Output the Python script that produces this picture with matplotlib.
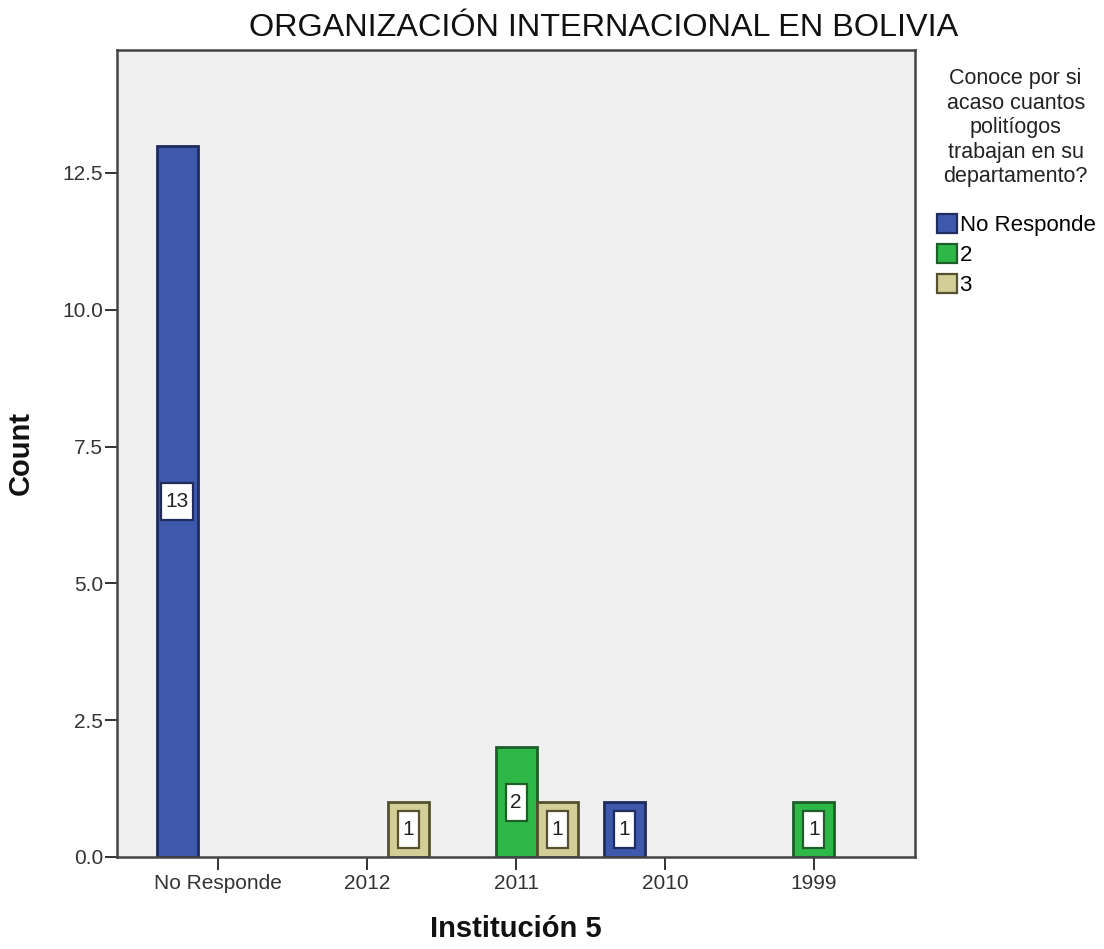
#!/usr/bin/env python3
import matplotlib
matplotlib.use('Agg')
import matplotlib.pyplot as plt
import matplotlib.transforms as mtransforms
import numpy as np
from matplotlib.patches import Patch, Rectangle

plt.rcParams['font.family'] = ['Liberation Sans', 'DejaVu Sans']

# Data
categories = ['No Responde', '2012', '2011', '2010', '1999']
series_names = ['No Responde', '2', '3']
counts_no_responde = [13, 0, 0, 1, 0]
counts_2 = [0, 0, 2, 0, 1]
counts_3 = [0, 1, 1, 0, 0]

fills = ['#3E58AC', '#2EB848', '#D3CE97']
edges = ['#1F2C5C', '#1E5E28', '#55502E']

fig = plt.figure(figsize=(11.04, 9.49), dpi=100)
ax = fig.add_axes([0.106, 0.097, 0.723, 0.850])
ax.set_facecolor('#F0F0F0')

x = np.arange(len(categories))
width = 0.275
offsets = [-width, 0, width]
all_counts = [counts_no_responde, counts_2, counts_3]

for vals, off, fc, ec in zip(all_counts, offsets, fills, edges):
    for xi, v in zip(x, vals):
        if v == 0:
            continue
        ax.bar(xi + off, v, width, color=fc, edgecolor=ec, linewidth=2)
        # white value box, fixed size in inches, centred on the bar
        label = str(v)
        bw = 0.11 * len(label) + 0.10
        bh = 0.37
        tr = fig.dpi_scale_trans + mtransforms.ScaledTranslation(xi + off, v / 2, ax.transData)
        ax.add_patch(Rectangle((-bw / 2, -bh / 2), bw, bh, transform=tr,
                               facecolor='white', edgecolor=ec, linewidth=1.6, zorder=3))
        ax.text(xi + off, v / 2, label, ha='center', va='center', fontsize=15,
                color='#222222', zorder=4)

ax.set_xlim(-0.68, 4.68)
ax.set_ylim(0, 14.74)
ax.set_xticks(x)
ax.set_xticklabels(categories, fontsize=15, color='#333333')
ax.set_yticks([0, 2.5, 5.0, 7.5, 10.0, 12.5])
ax.set_yticklabels(['0.0', '2.5', '5.0', '7.5', '10.0', '12.5'], fontsize=15, color='#333333')
ax.tick_params(axis='both', direction='out', length=9, width=1.4, color='#333333')
ax.tick_params(axis='y', pad=1)
ax.tick_params(axis='x', pad=3)
for s in ax.spines.values():
    s.set_color('#444444')
    s.set_linewidth(1.8)

fig.text(0.467, 0.021, 'Institución 5', ha='center', va='center', fontsize=21,
         fontweight='bold', color='#111111')
fig.text(0.019, 0.523, 'Count', ha='center', va='center', rotation=90, fontsize=21,
         fontweight='bold', color='#111111')
fig.text(0.547, 0.970, 'ORGANIZACIÓN INTERNACIONAL EN BOLIVIA', ha='center', va='center',
         fontsize=23.3, color='#111111')

# Legend title and entries
fig.text(0.920, 0.928, 'Conoce por si\nacaso cuantos\npolitíogos\ntrabajan en su\ndepartamento?',
         ha='center', va='top', fontsize=15.5, linespacing=1.22, color='#222222')
handles = [Patch(facecolor=fc, edgecolor=ec, linewidth=1.6) for fc, ec in zip(fills, edges)]
fig.legend(handles, series_names, loc='upper left', bbox_to_anchor=(0.849, 0.774),
           frameon=False, fontsize=16, handlelength=0.9, handleheight=0.9,
           handletextpad=0.1, labelspacing=0.36, borderaxespad=0, borderpad=0)

fig.savefig('out.png', dpi=100)
